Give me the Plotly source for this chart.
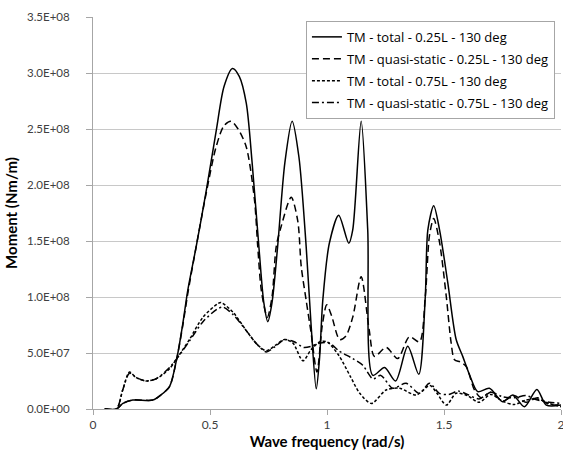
import plotly.graph_objects as go

# Wave frequency (rad/s) and moment values (in units of 1E+07 Nm/m)
freq_total_025 = [0.05, 0.10, 0.128, 0.17, 0.256, 0.29, 0.327, 0.358, 0.384, 0.405, 0.441, 0.484, 0.527,
                  0.56, 0.596, 0.625, 0.655, 0.68, 0.71, 0.73, 0.747, 0.765, 0.789, 0.82, 0.851, 0.88,
                  0.911, 0.932, 0.954, 0.968, 0.982, 1.01, 1.05, 1.093, 1.11, 1.146, 1.174, 1.196,
                  1.246, 1.293, 1.345, 1.392, 1.42, 1.431, 1.456, 1.481, 1.516, 1.552, 1.58, 1.61,
                  1.644, 1.694, 1.751, 1.794, 1.844, 1.897, 1.937, 2.0]
mom_total_025 = [0, 0, 0.5, 0.8, 0.8, 1.25, 2.0, 4.5, 7.65, 10.6, 14.5, 19.5, 24.9,
                 28.8, 30.4, 29.7, 27.3, 22.0, 14.2, 9.5, 7.8, 9.5, 14.5, 22.0, 25.7, 22.5,
                 14.5, 7.5, 1.8, 4.5, 9.7, 14.8, 17.3, 14.8, 16.0, 25.7, 16.0, 3.0,
                 3.7, 2.5, 5.6, 3.1, 10.0, 16.0, 18.15, 16.0, 11.3, 6.2, 4.7, 3.0,
                 1.55, 1.85, 0.65, 1.25, 0.2, 1.75, 0.35, 0.35]

freq_qs_025 = [0.05, 0.10, 0.128, 0.17, 0.256, 0.29, 0.327, 0.358, 0.384, 0.405, 0.441, 0.484, 0.526,
               0.56, 0.59, 0.62, 0.655, 0.69, 0.704, 0.72, 0.745, 0.765, 0.783, 0.804, 0.847, 0.875,
               0.89, 0.911, 0.932, 0.957, 0.98, 0.999, 1.02, 1.054, 1.08, 1.11, 1.146, 1.18, 1.203,
               1.253, 1.302, 1.352, 1.395, 1.42, 1.438, 1.456, 1.48, 1.51, 1.53, 1.545, 1.57, 1.595,
               1.63, 1.66, 1.70, 1.75, 1.80, 1.85, 1.90, 1.95, 2.0]
mom_qs_025 = [0, 0, 0.5, 0.8, 0.8, 1.25, 2.0, 4.5, 7.5, 10.3, 14.5, 19.3, 23.4,
              25.3, 25.7, 25.0, 23.4, 18.7, 14.5, 10.5, 8.2, 10.0, 14.5, 16.3, 18.9, 16.8,
              12.7, 9.7, 6.8, 3.3, 7.5, 9.3, 8.3, 6.2, 6.5, 8.2, 11.8, 7.1, 4.7,
              5.5, 4.5, 6.45, 6.0, 10.0, 15.5, 17.0, 15.0, 10.0, 6.0, 4.4, 4.2, 3.8,
              1.7, 1.0, 1.5, 0.7, 1.2, 0.6, 1.0, 0.4, 0.4]

freq_total_075 = [0.05, 0.10, 0.127, 0.156, 0.185, 0.227, 0.27, 0.327, 0.358, 0.412, 0.47, 0.533, 0.548,
                  0.60, 0.655, 0.70, 0.74, 0.78, 0.818, 0.854, 0.897, 0.932, 0.97, 1.0, 1.05, 1.10,
                  1.14, 1.19, 1.253, 1.31, 1.381, 1.44, 1.47, 1.51, 1.552, 1.60, 1.65, 1.70, 1.75,
                  1.80, 1.85, 1.90, 1.95, 2.0]
mom_total_075 = [0, 0, 1.7, 3.3, 2.8, 2.5, 2.7, 3.6, 4.5, 6.2, 8.2, 9.4, 9.5,
                 8.6, 7.0, 5.8, 5.2, 5.7, 6.2, 5.9, 4.3, 5.3, 6.0, 6.0, 4.8, 2.9,
                 1.4, 0.5, 1.7, 1.85, 1.25, 2.1, 1.4, 0.35, 1.4, 1.2, 0.6, 1.3, 0.7,
                 0.4, 0.8, 0.9, 0.5, 0.2]

freq_qs_075 = [0.05, 0.10, 0.127, 0.156, 0.185, 0.227, 0.27, 0.327, 0.358, 0.41, 0.47, 0.53, 0.555,
               0.60, 0.655, 0.70, 0.74, 0.78, 0.818, 0.86, 0.90, 0.932, 0.97, 1.01, 1.05, 1.11,
               1.153, 1.196, 1.23, 1.281, 1.338, 1.395, 1.438, 1.48, 1.52, 1.56, 1.60, 1.65, 1.70,
               1.75, 1.80, 1.85, 1.90, 1.95, 2.0]
mom_qs_075 = [0, 0, 1.7, 3.2, 2.8, 2.5, 2.7, 3.7, 4.5, 6.0, 7.8, 8.9, 9.1,
              8.4, 7.0, 5.8, 5.1, 5.6, 6.2, 6.0, 5.5, 5.6, 5.9, 5.9, 5.2, 4.5,
              3.9, 2.7, 3.0, 1.85, 2.3, 1.4, 2.3, 1.4, 1.3, 1.6, 1.3, 0.9, 1.5,
              1.1, 1.0, 1.2, 0.8, 0.6, 0.5]

series_names = ["TM - total - 0.25L - 130 deg",
                "TM - quasi-static - 0.25L - 130 deg",
                "TM - total - 0.75L - 130 deg",
                "TM - quasi-static - 0.75L - 130 deg"]

y_tick_vals = [0, 5e7, 1e8, 1.5e8, 2e8, 2.5e8, 3e8, 3.5e8]
y_tick_text = ["0.0E+00", "5.0E+07", "1.0E+08", "1.5E+08", "2.0E+08", "2.5E+08", "3.0E+08", "3.5E+08"]
x_tick_vals = [0, 0.5, 1, 1.5, 2]
x_tick_text = ["0", "0.5", "1", "1.5", "2"]

SCALE = 1e7
FONT = "Lato, Open Sans, sans-serif"
LEGEND_FONT = "Open Sans, Lato, sans-serif"

series = [
    (freq_total_025, mom_total_025, "solid"),
    (freq_qs_025, mom_qs_025, "7px,4px"),
    (freq_total_075, mom_total_075, "3px,2px"),
    (freq_qs_075, mom_qs_075, "7px,3px,2px,3px"),
]

fig = go.Figure()
for i, ((fx, my, dash), name) in enumerate(zip(series, series_names)):
    fig.add_trace(go.Scatter(
        x=fx, y=[v * SCALE for v in my], name=name, mode="lines",
        legendgroup=f"g{i}",
        line=dict(color="#000000", width=1.5, dash=dash, shape="spline", smoothing=0.8),
    ))

fig.update_layout(
    width=563, height=459,
    margin=dict(l=93, r=2, t=17, b=50),
    paper_bgcolor="white", plot_bgcolor="white",
    font=dict(family=FONT, size=12, color="#404040"),
    showlegend=True,
    legend=dict(
        x=0.455, y=0.99, xanchor="left", yanchor="top",
        bgcolor="white", bordercolor="#a6a6a6", borderwidth=1,
        font=dict(family=LEGEND_FONT, size=13, color="#000000"),
        tracegroupgap=2, itemwidth=30,
    ),
    xaxis=dict(
        range=[0, 2], tickvals=x_tick_vals, ticktext=x_tick_text,
        showgrid=False, zeroline=False, automargin=False,
        showline=True, linecolor="#a6a6a6", linewidth=1,
        ticks="outside", ticklen=5, tickcolor="#a6a6a6",
        ticklabeloverflow="allow",
        tickfont=dict(family=FONT, size=12, color="#404040"),
        title=dict(text="<b>Wave frequency (rad/s)</b>", standoff=5,
                   font=dict(family=FONT, size=15, color="#000000")),
    ),
    yaxis=dict(
        range=[0, 3.5e8], tickvals=y_tick_vals, ticktext=y_tick_text,
        showgrid=True, gridcolor="#c8c8c8", gridwidth=1, zeroline=False,
        showline=True, linecolor="#a6a6a6", linewidth=1, automargin=False,
        ticks="outside", ticklen=6, tickcolor="#a6a6a6",
        ticklabelstandoff=14,
        tickfont=dict(family=FONT, size=11.5, color="#404040"),
        title=dict(text="<b>Moment (Nm/m)</b>", standoff=5,
                   font=dict(family=FONT, size=15, color="#000000")),
    ),
)

fig.write_html("out.html")
